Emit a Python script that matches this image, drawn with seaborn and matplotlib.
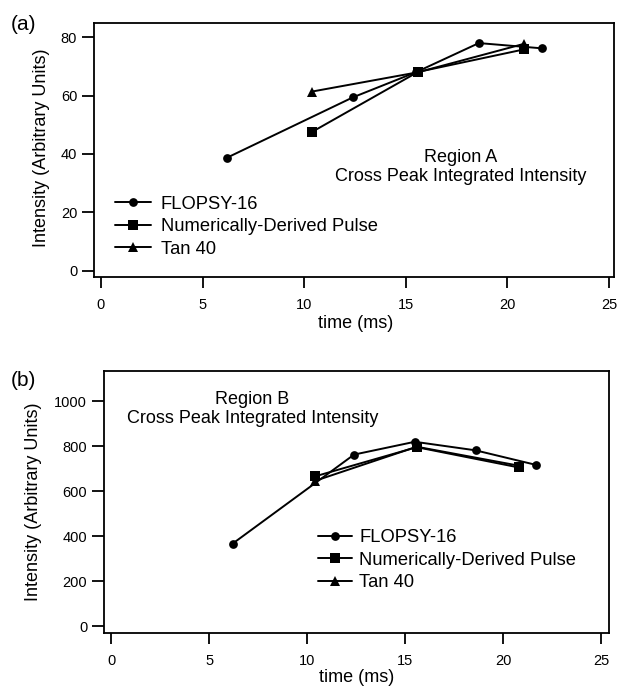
import matplotlib
matplotlib.use("Agg")
import matplotlib.pyplot as plt
import seaborn as sns
import pandas as pd

sns.set_style("ticks")
plt.rcParams['font.family'] = ['Liberation Sans', 'DejaVu Sans']
plt.rcParams['text.color'] = 'black'
plt.rcParams['axes.labelcolor'] = 'black'
plt.rcParams['xtick.color'] = 'black'
plt.rcParams['ytick.color'] = 'black'

# ---- data ----
series_names = ["FLOPSY-16", "Numerically-Derived Pulse", "Tan 40"]

a_flopsy_t = [6.2, 12.4, 15.5, 18.6, 21.7]
a_flopsy_y = [38.7, 59.4, 68.0, 78.0, 76.2]
a_num_t = [10.4, 15.6, 20.8]
a_num_y = [47.6, 68.1, 75.8]
a_tan_t = [10.4, 15.6, 20.8]
a_tan_y = [61.4, 68.0, 77.7]

b_flopsy_t = [6.2, 12.4, 15.5, 18.6, 21.7]
b_flopsy_y = [366, 762, 819, 781, 716]
b_num_t = [10.4, 15.6, 20.8]
b_num_y = [665, 795, 705]
b_tan_t = [10.4, 15.6, 20.8]
b_tan_y = [645, 797, 713]

x_ticks = [0, 5, 10, 15, 20, 25]
a_y_ticks = [0, 20, 40, 60, 80]
b_y_ticks = [0, 200, 400, 600, 800, 1000]

fig = plt.figure(figsize=(6.19, 6.89), dpi=100)
ax_a = fig.add_axes([0.1519, 0.598, 0.840, 0.3687])
ax_b = fig.add_axes([0.168, 0.0808, 0.8158, 0.3811])

marker_kw = {
    "FLOPSY-16": dict(marker="o", markersize=6.3),
    "Numerically-Derived Pulse": dict(marker="s", markersize=6.8),
    "Tan 40": dict(marker="^", markersize=7.3),
}

def draw(ax, data):
    for name in ["FLOPSY-16", "Tan 40", "Numerically-Derived Pulse"]:
        t, y = data[name]
        df = pd.DataFrame({"t": t, "y": y})
        sns.lineplot(data=df, x="t", y="y", ax=ax, color="black", sort=False,
                     linewidth=1.4, markeredgewidth=0, label=name,
                     **marker_kw[name])
    h, l = ax.get_legend_handles_labels()
    d = dict(zip(l, h))
    return [d[n] for n in series_names]

def style(ax, xlim, ylim, yticks):
    ax.set_xlim(*xlim)
    ax.set_ylim(*ylim)
    ax.set_xticks(x_ticks)
    ax.set_yticks(yticks)
    for s in ax.spines.values():
        s.set_visible(True)
        s.set_linewidth(1.3)
        s.set_color("black")
    ax.tick_params(axis="x", direction="out", length=8, width=1.3, pad=7,
                   labelsize=10.5, colors="black")
    ax.tick_params(axis="y", direction="out", length=8.5, width=1.3, pad=3.6,
                   labelsize=10.5, colors="black")
    ax.set_xlabel("time (ms)", fontsize=13)
    ax.set_ylabel("Intensity (Arbitrary Units)", fontsize=13)

# panel (a)
hs = draw(ax_a, {"FLOPSY-16": (a_flopsy_t, a_flopsy_y),
                 "Numerically-Derived Pulse": (a_num_t, a_num_y),
                 "Tan 40": (a_tan_t, a_tan_y)})
style(ax_a, (-0.34, 25.25), (-2.16, 84.9), a_y_ticks)
ax_a.legend(hs, series_names, loc="center left", bbox_to_anchor=(0.040, 0.198),
            frameon=False, fontsize=13.2, handlelength=2.0, handletextpad=0.5,
            labelspacing=0.3, borderpad=0, borderaxespad=0)
ax_a.text(17.7, 35.5, "Region A\nCross Peak Integrated Intensity", ha="center",
          va="center", fontsize=13, linespacing=1.15)
ax_a.xaxis.set_label_coords(0.503, -0.148)
ax_a.yaxis.set_label_coords(-0.0846, 0.51)
fig.text(23 / 619, 1 - 24 / 689, "(a)", ha="center", va="center", fontsize=15)

# panel (b)
hs = draw(ax_b, {"FLOPSY-16": (b_flopsy_t, b_flopsy_y),
                 "Numerically-Derived Pulse": (b_num_t, b_num_y),
                 "Tan 40": (b_tan_t, b_tan_y)})
style(ax_b, (-0.36, 25.41), (-32.4, 1134.7), b_y_ticks)
ax_b.legend(hs, series_names, loc="center left", bbox_to_anchor=(0.424, 0.279),
            frameon=False, fontsize=13.2, handlelength=1.85, handletextpad=0.4,
            labelspacing=0.3, borderpad=0, borderaxespad=0)
ax_b.text(7.22, 966, "Region B\nCross Peak Integrated Intensity", ha="center",
          va="center", fontsize=13, linespacing=1.15)
ax_b.xaxis.set_label_coords(0.501, -0.136)
ax_b.yaxis.set_label_coords(-0.123, 0.50)
fig.text(23 / 619, 1 - 380 / 689, "(b)", ha="center", va="center", fontsize=15)

fig.savefig("out.png", dpi=100)
